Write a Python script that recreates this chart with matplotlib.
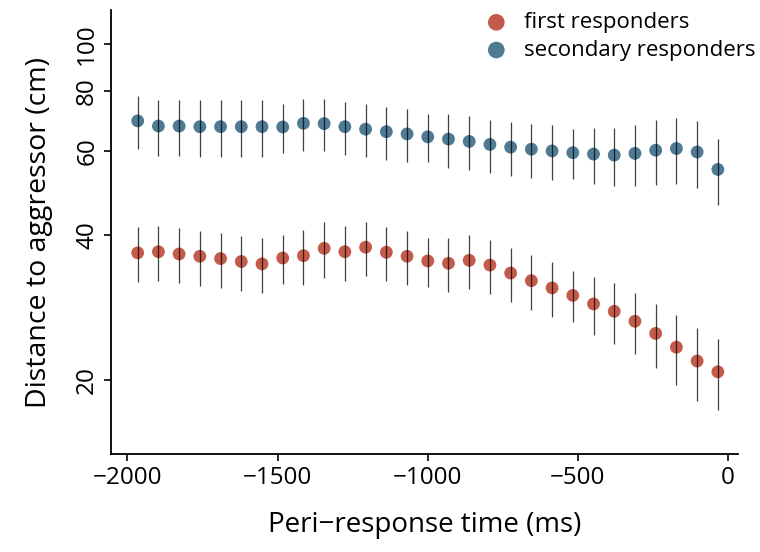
import matplotlib
matplotlib.use('Agg')
import matplotlib.pyplot as plt
from matplotlib.ticker import FixedLocator, NullLocator

plt.rcParams['font.family'] = ['Open Sans', 'DejaVu Sans']

time_ms = [-1966, -1897, -1828, -1759, -1690, -1621, -1552, -1483, -1414, -1345,
           -1276, -1207, -1138, -1069, -1000, -931, -862, -793, -724, -655,
           -586, -517, -448, -379, -310, -241, -172, -103, -34]

first_mean = [36.8, 37.0, 36.6, 36.2, 35.8, 35.3, 34.9, 35.9, 36.3, 37.6,
              37.0, 37.8, 36.9, 36.2, 35.4, 35.0, 35.5, 34.7, 33.4, 32.2,
              31.1, 30.0, 28.8, 27.8, 26.5, 25.0, 23.4, 21.9, 20.8]
first_err = [4.8, 4.9, 4.8, 4.75, 4.7, 4.65, 4.55, 4.2, 4.75, 5.05,
             4.9, 4.85, 4.8, 4.65, 4.1, 4.5, 4.6, 4.5, 4.3, 4.2,
             4.1, 3.65, 4.0, 4.0, 3.9, 3.85, 3.85, 3.8, 3.5]

second_mean = [69.3, 67.6, 67.6, 67.4, 67.4, 67.4, 67.4, 67.3, 68.5, 68.4,
               67.4, 66.6, 65.8, 65.1, 64.2, 63.5, 62.8, 61.9, 61.1, 60.5,
               60.0, 59.5, 59.1, 58.8, 59.3, 60.2, 60.7, 59.7, 54.9]
second_err = [8.85, 9.0, 9.0, 9.15, 9.15, 9.15, 9.05, 7.95, 8.55, 8.45,
              8.45, 8.45, 8.3, 8.2, 7.35, 8.1, 8.15, 7.8, 7.85, 7.85,
              7.85, 7.1, 7.95, 8.2, 8.7, 9.3, 9.6, 9.5, 8.5]

labels = ['first responders', 'secondary responders']
colors = ['#c45a4a', '#4e7a94']

fig = plt.figure(figsize=(7.6, 5.52), dpi=100)
ax = fig.add_axes([0.146, 0.177, 0.825, 0.805])

for mean, err, col, lab in [(first_mean, first_err, colors[0], labels[0]),
                            (second_mean, second_err, colors[1], labels[1])]:
    ax.scatter(time_ms, mean, s=85, color=col, edgecolor='none', zorder=2, label=lab)
    ax.errorbar(time_ms, mean, yerr=err, fmt='none', ecolor='black',
                elinewidth=0.9, alpha=0.75, zorder=3)

ax.set_yscale('log')
ax.set_ylim(14, 118)
ax.set_xlim(-2055, 33)
ax.yaxis.set_major_locator(FixedLocator([20, 40, 60, 80, 100]))
ax.yaxis.set_minor_locator(NullLocator())
ax.set_yticklabels(['20', '40', '60', '80', '100'], rotation=90, va='center')
ax.set_xticks([-2000, -1500, -1000, -500, 0])
ax.set_xticklabels(['\u22122000', '\u22121500', '\u22121000', '\u2212500', '0'])

for s in ['top', 'right']:
    ax.spines[s].set_visible(False)
for s in ['left', 'bottom']:
    ax.spines[s].set_linewidth(1.3)
ax.tick_params(labelsize=17.5, width=1.2, length=5)

ax.set_xlabel('Peri\u2212response time (ms)', fontsize=20, labelpad=15)
ax.set_ylabel('Distance to aggressor (cm)', fontsize=20.5, labelpad=16)

ax.legend(loc='upper right', bbox_to_anchor=(1.06, 1.04), frameon=False,
          fontsize=16, handletextpad=0.25, labelspacing=0.3, markerscale=1.3)

plt.savefig('out.png', dpi=100)
